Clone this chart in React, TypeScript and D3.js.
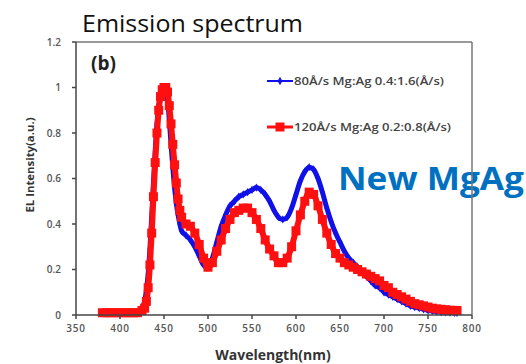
import React from "react";
import * as d3 from "d3";

const wavelengths = [
  380, 385, 390, 395, 400, 405, 410, 415, 420, 425, 428, 430, 432, 434, 436, 438, 440, 442, 444, 446, 448,
  450, 452, 454, 456, 458, 460, 462, 464, 466, 468, 470, 475, 480, 485, 490, 495, 500, 505, 510, 515, 520,
  525, 530, 535, 540, 545, 550, 555, 560, 565, 570, 575, 580, 585, 590, 595, 600, 605, 610, 615, 620, 625,
  630, 635, 640, 645, 650, 655, 660, 665, 670, 675, 680, 685, 690, 695, 700, 705, 710, 715, 720, 725, 730,
  735, 740, 745, 750, 755, 760, 765, 770, 775, 780, 783,
];

const blueSeries = [
  0.01, 0.01, 0.01, 0.01, 0.01, 0.01, 0.01, 0.01, 0.015, 0.03, 0.06, 0.11, 0.18, 0.29, 0.43, 0.58, 0.72, 0.84,
  0.92, 0.97, 0.99, 1.0, 0.99, 0.95, 0.86, 0.75, 0.65, 0.56, 0.49, 0.44, 0.4, 0.37, 0.35, 0.33, 0.3, 0.26,
  0.22, 0.21, 0.25, 0.32, 0.39, 0.44, 0.48, 0.5, 0.52, 0.53, 0.54, 0.55, 0.56, 0.55, 0.53, 0.5, 0.46, 0.43,
  0.42, 0.43, 0.47, 0.53, 0.59, 0.63, 0.65, 0.64, 0.6, 0.54, 0.47, 0.41, 0.36, 0.32, 0.28, 0.25, 0.23, 0.21,
  0.19, 0.17, 0.15, 0.13, 0.12, 0.1, 0.09, 0.08, 0.07, 0.06, 0.05, 0.04, 0.035, 0.03, 0.025, 0.02, 0.018,
  0.015, 0.013, 0.012, 0.011, 0.01, 0.01,
];

const redSeries = [
  0.01, 0.01, 0.01, 0.01, 0.01, 0.01, 0.01, 0.01, 0.01, 0.02, 0.03, 0.06, 0.12, 0.22, 0.36, 0.52, 0.67, 0.8,
  0.9, 0.96, 0.99, 1.0, 1.0, 0.98, 0.92, 0.84, 0.75, 0.66, 0.58, 0.51, 0.46, 0.43, 0.4, 0.39, 0.36, 0.31,
  0.25, 0.21, 0.23, 0.28, 0.33, 0.38, 0.42, 0.45, 0.46, 0.47, 0.47, 0.45, 0.42, 0.38, 0.33, 0.29, 0.26, 0.23,
  0.23, 0.25, 0.3, 0.37, 0.44, 0.5, 0.54, 0.53, 0.48, 0.42, 0.36, 0.31, 0.27, 0.25, 0.23, 0.22, 0.21, 0.2,
  0.19, 0.18, 0.17, 0.16, 0.15, 0.13, 0.12, 0.1, 0.09, 0.08, 0.07, 0.06, 0.05, 0.045, 0.04, 0.035, 0.03,
  0.027, 0.025, 0.023, 0.021, 0.02, 0.02,
];

const xTicks = [350, 400, 450, 500, 550, 600, 650, 700, 750, 800];
const yTicks = [0, 0.2, 0.4, 0.6, 0.8, 1, 1.2];
const legendLabels = ["80Å/s Mg:Ag 0.4:1.6(Å/s)", "120Å/s Mg:Ag 0.2:0.8(Å/s)"];

const W = 526;
const H = 364;
const L = 76;
const R = 472;
const T = 42;
const B = 315;

export default function App() {
  const x = d3.scaleLinear().domain([350, 800]).range([L, R]);
  const y = d3.scaleLinear().domain([0, 1.2]).range([B, T]);
  const blue = wavelengths.map((w, i) => [w, blueSeries[i]] as [number, number]);
  const red = wavelengths.map((w, i) => [w, redSeries[i]] as [number, number]);
  const line = d3
    .line<[number, number]>()
    .x((d) => x(d[0]))
    .y((d) => y(d[1]))
    .curve(d3.curveMonotoneX);
  const diamond = d3.symbol().type(d3.symbolDiamond).size(20)() as string;
  const blueC = "#1010e8";
  const redC = "#ff1010";
  const tickFont = "'Open Sans', sans-serif";
  const sq = 9;

  return (
    <svg width={W} height={H} style={{ position: "absolute", left: 0, top: 0 }}>
      <rect x={0} y={0} width={W} height={H} fill="#fff" />
      <text x={82} y={32} fontFamily="'Open Sans', sans-serif" fontSize={24} fill="#111" textLength={221} lengthAdjust="spacingAndGlyphs">
        Emission spectrum
      </text>
      {/* series */}
      <path d={line(blue) || ""} fill="none" stroke={blueC} strokeWidth={5} strokeLinejoin="round" />
      {blue.map((d, i) => (
        <path key={"b" + i} d={diamond} transform={`translate(${x(d[0])},${y(d[1])})`} fill={blueC} />
      ))}
      <path d={line(red) || ""} fill="none" stroke={redC} strokeWidth={6} strokeLinejoin="round" />
      {red.map((d, i) => (
        <rect key={"r" + i} x={x(d[0]) - sq / 2} y={y(d[1]) - sq / 2} width={sq} height={sq} fill={redC} />
      ))}
      {/* big label */}
      <text x={338} y={190} fontFamily="'Open Sans', sans-serif" fontWeight={700} fontSize={33} fill="#0070c0" textLength={186} lengthAdjust="spacingAndGlyphs">
        New MgAg
      </text>
      {/* frame */}
      <line x1={L} y1={T} x2={R} y2={T} stroke="#777" strokeWidth={1.5} />
      <line x1={R} y1={T} x2={R} y2={B} stroke="#777" strokeWidth={1.5} />
      <line x1={L} y1={T} x2={L} y2={B} stroke="#444" strokeWidth={1.5} />
      <line x1={L} y1={B} x2={R} y2={B} stroke="#444" strokeWidth={1.5} />
      {yTicks.map((t) => (
        <g key={"y" + t}>
          <line x1={L - 4} x2={L} y1={y(t)} y2={y(t)} stroke="#444" strokeWidth={1.5} />
          <text x={61} y={y(t) + 3.5} textAnchor="end" fontFamily={tickFont} fontSize={10} fontWeight={600} fill="#555">
            {String(t)}
          </text>
        </g>
      ))}
      {xTicks.map((t) => (
        <g key={"x" + t}>
          <line x1={x(t)} x2={x(t)} y1={B} y2={B + 4} stroke="#444" strokeWidth={1.5} />
          <text x={x(t)} y={332} textAnchor="middle" fontFamily={tickFont} fontSize={10} fontWeight={600} fill="#555" letterSpacing={0.8}>
            {String(t)}
          </text>
        </g>
      ))}
      <text x={91} y={70} fontFamily="'Open Sans', sans-serif" fontWeight={700} fontSize={19} fill="#222">
        (b)
      </text>
      {/* legend */}
      <line x1={267} x2={293} y1={81} y2={81} stroke={blueC} strokeWidth={2} />
      <path d={diamond} transform="translate(280,81)" fill={blueC} />
      <text x={294} y={84.5} fontFamily={tickFont} fontSize={10} fontWeight={600} fill="#444" textLength={150} lengthAdjust="spacingAndGlyphs">
        {legendLabels[0]}
      </text>
      <line x1={267} x2={293} y1={127} y2={127} stroke={redC} strokeWidth={3} />
      <rect x={275.5} y={122.5} width={9} height={9} fill={redC} />
      <text x={294} y={130.5} fontFamily={tickFont} fontSize={10} fontWeight={600} fill="#444" textLength={157} lengthAdjust="spacingAndGlyphs">
        {legendLabels[1]}
      </text>
      <text
        transform="translate(34,165) rotate(-90)"
        textAnchor="middle"
        fontFamily={tickFont}
        fontSize={11}
        fontWeight={700}
        fill="#333"
        textLength={95}
        lengthAdjust="spacingAndGlyphs"
      >
        EL Intensity(a.u.)
      </text>
      <text x={273} y={360} textAnchor="middle" fontFamily={tickFont} fontSize={14} fontWeight={700} fill="#333">
        Wavelength(nm)
      </text>
    </svg>
  );
}
